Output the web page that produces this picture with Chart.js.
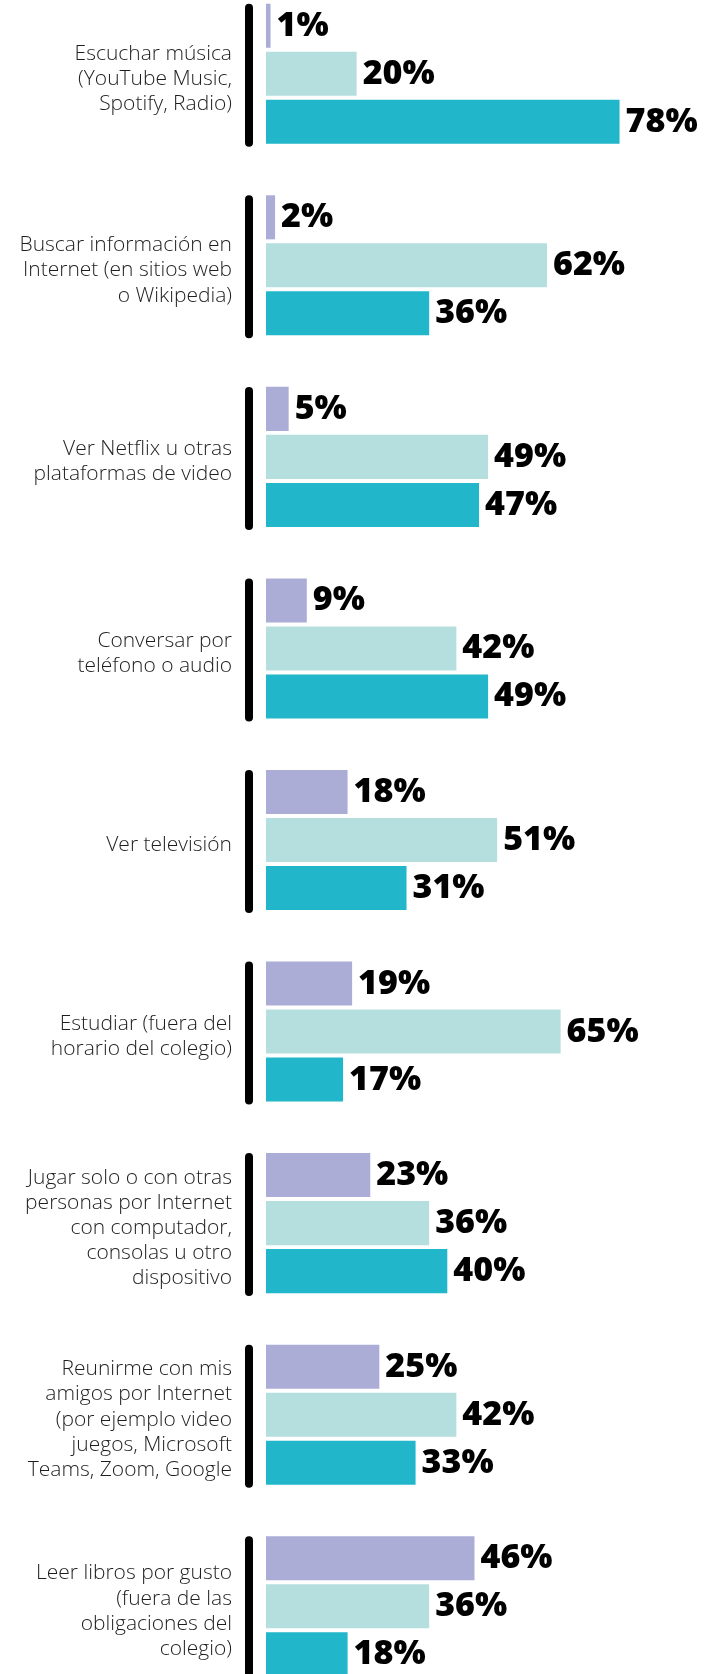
<!DOCTYPE html>
<html lang="es">
<head>
<meta charset="utf-8">
<script src="https://cdn.jsdelivr.net/npm/chart.js@4/dist/chart.umd.min.js"></script>
<style>
  html, body { margin: 0; padding: 0; background: #ffffff; overflow: hidden; }
  body { width: 717px; height: 1674px; position: relative; }
  #wrap { position: absolute; left: 0; top: -22px; width: 717px; height: 1724px; }
</style>
</head>
<body>
<div id="wrap"><canvas id="chart"></canvas></div>
<script>
// Actividades (cada una dividida en varias líneas de etiqueta)
const categories = [
  ["Escuchar música", "(YouTube Music,", "Spotify, Radio)"],
  ["Buscar información en", "Internet (en sitios web", "o Wikipedia)"],
  ["Ver Netflix u otras", "plataformas de video"],
  ["Conversar por", "teléfono o audio"],
  ["Ver televisión"],
  ["Estudiar (fuera del", "horario del colegio)"],
  ["Jugar solo o con otras", "personas por Internet", "con computador,", "consolas u otro", "dispositivo"],
  ["Reunirme con mis", "amigos por Internet", "(por ejemplo video", "juegos, Microsoft", "Teams, Zoom, Google"],
  ["Leer libros por gusto", "(fuera de las", "obligaciones del", "colegio)"]
];

// Porcentajes por respuesta (tres series)
const serieA = [1, 2, 5, 9, 18, 19, 23, 25, 46];
const serieB = [20, 62, 49, 42, 51, 65, 36, 42, 36];
const serieC = [78, 36, 47, 49, 31, 17, 40, 33, 18];

const colors = ["#ABADD6", "#B5DFDE", "#21B6CA"];

// Barra vertical negra redondeada junto a cada grupo
const groupRule = {
  id: "groupRule",
  beforeDatasetsDraw(chart) {
    const { ctx, scales } = chart;
    const y = scales.y;
    const x = 249;
    ctx.save();
    ctx.strokeStyle = "#000000";
    ctx.lineWidth = 8;
    ctx.lineCap = "round";
    for (let i = 0; i < categories.length; i++) {
      const c = y.getPixelForValue(i);
      ctx.beginPath();
      ctx.moveTo(x, c - 66);
      ctx.lineTo(x, c + 69);
      ctx.stroke();
    }
    ctx.restore();
  }
};

// Valor en porcentaje al final de cada barra
const valueLabels = {
  id: "valueLabels",
  afterDatasetsDraw(chart) {
    const { ctx } = chart;
    ctx.save();
    ctx.fillStyle = "#000000";
    ctx.font = "800 34px 'Open Sans', sans-serif";
    ctx.textAlign = "left";
    ctx.textBaseline = "alphabetic";
    chart.data.datasets.forEach((ds, di) => {
      const meta = chart.getDatasetMeta(di);
      meta.data.forEach((bar, i) => {
        ctx.fillText(ds.data[i] + "%", bar.x + 6, bar.y + 10);
      });
    });
    ctx.restore();
  }
};

new Chart(document.getElementById("chart"), {
  type: "bar",
  data: {
    labels: categories,
    datasets: [
      { data: serieA, backgroundColor: colors[0] },
      { data: serieB, backgroundColor: colors[1] },
      { data: serieC, backgroundColor: colors[2] }
    ]
  },
  options: {
    indexAxis: "y",
    responsive: true,
    maintainAspectRatio: false,
    animation: false,
    categoryPercentage: 0.752,
    barPercentage: 0.917,
    layout: { padding: 0 },
    plugins: { legend: { display: false }, tooltip: { enabled: false } },
    scales: {
      x: { display: false, min: 0, max: 99.5 },
      y: {
        grid: { display: false, drawTicks: false },
        border: { display: false },
        ticks: {
          padding: 34,
          labelOffset: 5,
          color: "#1e1e1e",
          font: { family: "'Open Sans', sans-serif", size: 21, weight: 300, lineHeight: 1.2 }
        },
        afterFit(scale) {
          scale.width = 266;
          scale.paddingTop = 0;
          scale.paddingBottom = 0;
        }
      }
    }
  },
  plugins: [groupRule, valueLabels]
});
</script>
</body>
</html>
